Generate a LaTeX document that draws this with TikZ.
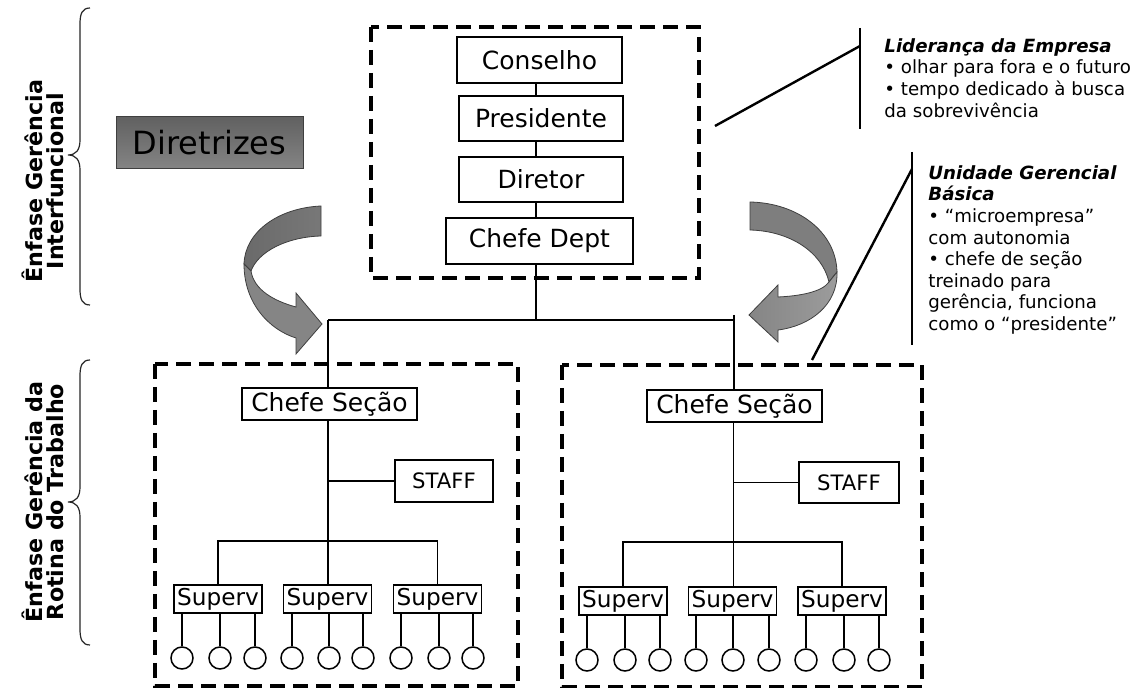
\documentclass[tikz,border=0pt]{standalone}
\usepackage{fontspec}
\setmainfont{DejaVu Sans}[
  BoldFont={DejaVu Sans Bold},
  ItalicFont={DejaVu Sans Oblique},
  BoldItalicFont={DejaVu Sans Bold Oblique}]
\definecolor{ribbonedge}{HTML}{3F3F3F}
\definecolor{ribbondark}{HTML}{6A6A6A}
\definecolor{ribbonmid}{HTML}{858585}
\definecolor{ribbonlight}{HTML}{9C9C9C}
\begin{document}
\begin{tikzpicture}[x=0.5pt,y=-0.5pt,
  box/.style={draw, line width=0.75pt, inner sep=0pt, font=\fontsize{12.5}{15}\selectfont},
  staffbox/.style={box, font=\fontsize{10.6}{13}\selectfont},
  supbox/.style={box, font=\fontsize{11.6}{14}\selectfont, minimum width=44pt, minimum height=14pt},
  person/.style={draw, circle, line width=0.75pt, minimum size=11pt, inner sep=0pt},
  link/.style={line width=0.75pt},
  frame/.style={line width=1.7pt, dash pattern=on 7.5pt off 4pt},
  callout/.style={line width=1.2pt},
  brace/.style={line width=0.6pt, draw=black!85},
  sidelabel/.style={align=center, inner sep=0pt, font=\bfseries\fontsize{11.1}{10.6}\selectfont},
  note/.style={align=left, inner sep=0pt, anchor=north west, font=\fontsize{9.1}{10.8}\selectfont},
  ribbon/.style={draw=ribbonedge, line width=0.4pt}]
\useasboundingbox (0,0) rectangle (1141,688);

% ---- upper hierarchy ----
\draw[frame] (371,27) rectangle (699,278);
\node[box, minimum width=82.5pt, minimum height=23pt] (cons) at (539.5,60) {Conselho};
\node[box, minimum width=82pt, minimum height=22.5pt] (pres) at (541,118.5) {Presidente};
\node[box, minimum width=82pt, minimum height=22.5pt] (dir) at (541,179.5) {Diretor};
\node[box, minimum width=93.5pt, minimum height=23pt] (dept) at (539.5,241) {Chefe Dept};

\coordinate (spine) at (536,0);
\coordinate (barL) at (328,320);
\coordinate (barR) at (734,320);
\coordinate (barRtop) at (734,315);
\draw[link] (cons.south -| spine) -- (pres.north -| spine);
\draw[link] (pres.south -| spine) -- (dir.north -| spine);
\draw[link] (dir.south -| spine) -- (dept.north -| spine);
\draw[link] (dept.south -| spine) -- (barL -| spine);
\draw[link] (barL) -- (barR);

% ---- left section ----
\draw[frame] (155,364) rectangle (518,686);
\node[box, minimum width=87.5pt, minimum height=16pt] (csL) at (329.5,404) {Chefe Seção};
\node[staffbox, minimum width=49pt, minimum height=21pt] (stL) at (444,481) {STAFF};
\node[supbox] (svL1) at (218,599) {Superv};
\node[supbox] (svL2) at (327.5,599) {Superv};
\node[supbox] (svL3) at (437.5,599) {Superv};
\coordinate (sbL) at (328,541);
\draw[link] (barL) -- (barL |- csL.north);
\draw[link] (csL.south -| sbL) -- (sbL);
\draw[link] (sbL |- stL.west) -- (stL.west);
\draw[link] (svL1.north) -- (svL1.north |- sbL) -- (svL3.north |- sbL) -- (svL3.north);
\draw[link] (sbL) -- (sbL |- svL2.north);
\foreach \x [count=\i] in {182,220,255,292,329,363,401,439,473}
  \node[person] (pL\i) at (\x,658) {};
\foreach \i/\s in {1/1,2/1,3/1,4/2,5/2,6/2,7/3,8/3,9/3}
  \draw[link] (svL\s.south -| pL\i) -- (pL\i.north);

% ---- right section ----
\draw[frame] (562,365) rectangle (922,687);
\node[box, minimum width=87.5pt, minimum height=16pt] (csR) at (734.5,406) {Chefe Seção};
\node[staffbox, minimum width=50pt, minimum height=20.5pt] (stR) at (849,482.5) {STAFF};
\node[supbox] (svR1) at (623,601) {Superv};
\node[supbox] (svR2) at (732.5,601) {Superv};
\node[supbox] (svR3) at (842,601) {Superv};
\coordinate (sbR) at (733.5,542);
\draw[link] (barRtop) -- (barRtop |- csR.north);
\draw[link] (csR.south -| sbR) -- (sbR);
\draw[link] (sbR |- stR.west) -- (stR.west);
\draw[link] (svR1.north) -- (svR1.north |- sbR) -- (svR3.north |- sbR) -- (svR3.north);
\draw[link] (sbR) -- (sbR |- svR2.north);
\foreach \x [count=\i] in {587,625,660,696,733,769,806,844,879}
  \node[person] (pR\i) at (\x,660) {};
\foreach \i/\s in {1/1,2/1,3/1,4/2,5/2,6/2,7/3,8/3,9/3}
  \draw[link] (svR\s.south -| pR\i) -- (pR\i.north);

% ---- Diretrizes ----
\node[draw=ribbonedge, line width=0.5pt, top color=black!62, bottom color=black!48,
      minimum width=93.5pt, minimum height=26pt, inner sep=0pt,
      font=\fontsize{16}{19}\selectfont] (dirz) at (209.5,143) {Diretrizes};

% ---- curved ribbon arrows ----
\path[ribbon, left color=ribbondark, right color=ribbonmid!90!black]
  (321,206) .. controls (278,208) and (245,232) .. (244,264)
  -- (251,271) .. controls (258,252) and (286,237) .. (321,236) -- cycle;
\path[ribbon, fill=ribbonmid]
  (244,264) .. controls (244,304) and (270,330) .. (296,338)
  -- (296,354) -- (322,324) -- (296,293) -- (296,307)
  .. controls (274,301) and (254,290) .. (251,271) -- cycle;

\path[ribbon, fill=ribbonmid!95!black]
  (750,202) .. controls (798,203) and (836,232) .. (837,272)
  -- (829,282) .. controls (822,252) and (790,231) .. (750,230) -- cycle;
\path[ribbon, left color=ribbonmid, right color=ribbonlight]
  (837,272) .. controls (838,305) and (810,326) .. (778,330)
  -- (778,342) -- (749,315) -- (778,285) -- (778,297)
  .. controls (800,296) and (822,292) .. (829,282) -- cycle;

% ---- side labels and braces ----
\node[sidelabel, rotate=90] (lblTop) at (42.5,181) {Ênfase Gerência\\Interfuncional};
\node[sidelabel, rotate=90] (lblBot) at (42.5,502) {Ênfase Gerência da\\Rotina do Trabalho};
\draw[brace] (90,8) .. controls (82,8) and (80,14) .. (80,24) -- (80,140)
  .. controls (80,150) and (76,155) .. (68,155)
  .. controls (76,155) and (80,160) .. (80,170) -- (80,289)
  .. controls (80,299) and (82,305) .. (90,305);
\draw[brace] (90,360) .. controls (82,360) and (80,366) .. (80,376) -- (80,487)
  .. controls (80,497) and (76,502) .. (68,502)
  .. controls (76,502) and (80,507) .. (80,517) -- (80,629)
  .. controls (80,639) and (82,645) .. (90,645);

% ---- annotations ----
\coordinate (a1) at (715,126);
\coordinate (a2) at (860,46);
\coordinate (a3) at (860,28);
\coordinate (a4) at (860,129);
\draw[callout] (a1) -- (a2);
\draw[callout] (a3) -- (a4);
\node[note] (noteA) at (884,38)
  {\textbf{\textit{Liderança da Empresa}}\\• olhar para fora e o futuro\\• tempo dedicado à busca\\da sobrevivência};

\coordinate (b1) at (812,360);
\coordinate (b2) at (912,169);
\coordinate (b3) at (912,152);
\coordinate (b4) at (912,345);
\draw[callout] (b1) -- (b2);
\draw[callout] (b3) -- (b4);
\node[note] (noteB) at (928,165)
  {\textbf{\textit{Unidade Gerencial}}\\\textbf{\textit{Básica}}\\• “microempresa”\\com autonomia\\• chefe de seção\\treinado para\\gerência, funciona\\como o “presidente”};
\end{tikzpicture}
\end{document}
